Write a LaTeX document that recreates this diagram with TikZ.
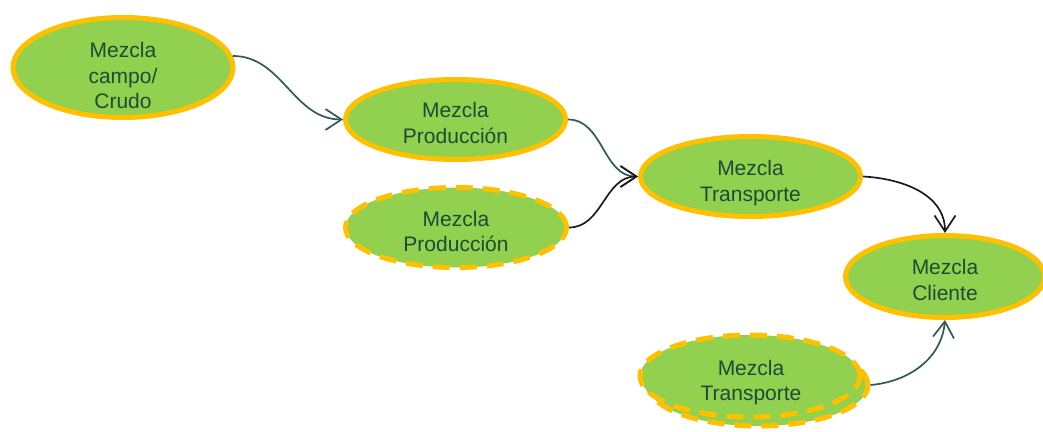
\documentclass[tikz,border=0pt]{standalone}
\usepackage{fontspec}
\setmainfont{Liberation Sans}
\usetikzlibrary{shapes.geometric,arrows.meta}
\definecolor{leaf}{HTML}{92D050}
\definecolor{gold}{HTML}{FFC000}
\definecolor{inkgreen}{HTML}{1F4A36}
\definecolor{slateflow}{HTML}{2F5A55}
\definecolor{darkflow}{HTML}{1C1C1C}
\begin{document}
\begin{tikzpicture}[x=1pt,y=-1pt,
  blob/.style={ellipse, fill=leaf, draw=gold, line width=5pt, inner sep=0pt},
  dashblob/.style={blob, dash pattern=on 17pt off 10pt},
  caption/.style={text=inkgreen, align=center, inner sep=0pt,
    font=\fontsize{21}{25.5}\selectfont},
  flow/.style={line width=1.7pt, draw=slateflow,
    -{Straight Barb[length=16pt,width=21pt,line width=1.7pt]}},
  flowdark/.style={flow, draw=darkflow},
]
\useasboundingbox (0,0) rectangle (1043,431);

% blend stages
\node[blob, minimum width=220pt, minimum height=100pt] (campo) at (123,67.5) {};
\node[caption] (campoT) at (123,75.5) {Mezcla\\campo/\\Crudo};

\node[blob, minimum width=220pt, minimum height=80pt] (prodA) at (455.5,119.5) {};
\node[caption] (prodAT) at (455.5,123) {Mezcla\\Producción};

\node[dashblob, minimum width=221pt, minimum height=80pt] (prodB) at (456,227.5) {};
\node[caption] (prodBT) at (456,231.5) {Mezcla\\Producción};

\node[blob, minimum width=220pt, minimum height=80pt] (transA) at (750.5,176.5) {};
\node[caption] (transAT) at (750.5,183) {Mezcla\\Transporte};

\node[blob, minimum width=199pt, minimum height=82pt] (cliente) at (945,276.5) {};
\node[caption] (clienteT) at (945,280) {Mezcla\\Cliente};

% stacked alternative transport blend
\node[dashblob, minimum width=220pt, minimum height=82pt] (transB2) at (758,385) {};
\node[dashblob, minimum width=220pt, minimum height=82pt] (transB) at (750,376) {};
\node[caption] (transBT) at (751,382.5) {Mezcla\\Transporte};

% connectors
\draw[flow] (campo.6) to[out=0,in=180] (prodA.west);
\draw[flow] (prodA.east) to[out=0,in=180] (transA.west);
\draw[flowdark] (prodB.east) to[out=0,in=180] (transA.west);
\draw[flowdark] (transA.east) to[out=-3,in=90] (cliente.north);
\draw[flow] (transB2.east) to[out=5,in=-95] (cliente.south);
\end{tikzpicture}
\end{document}
